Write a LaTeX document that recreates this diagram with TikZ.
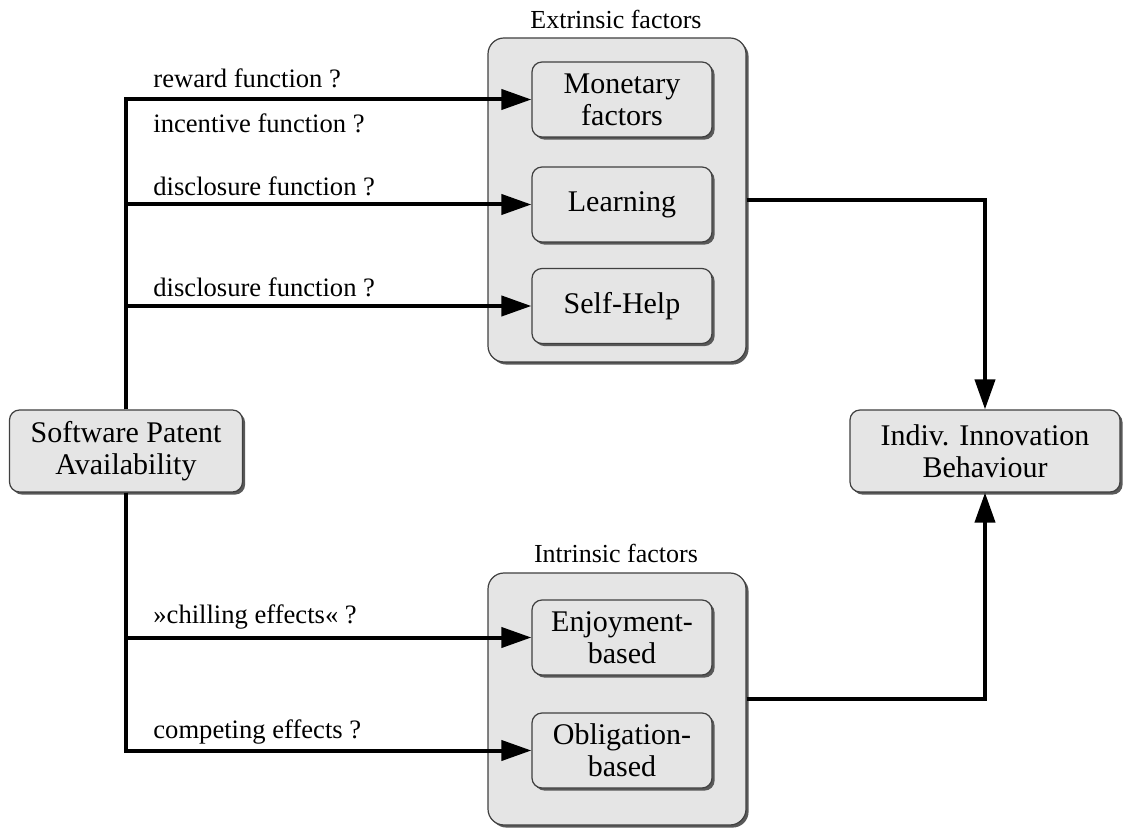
\documentclass[tikz,border=0pt]{standalone}
\usepackage{fontspec}
\setmainfont{Liberation Serif}
\usetikzlibrary{shadows,arrows.meta}
\begin{document}
\begin{tikzpicture}[x=0.5pt,y=-0.5pt,
  shad/.style={drop shadow={shadow xshift=1.3pt,shadow yshift=-1.3pt,fill=black!65,opacity=1}},
  box/.style={draw=black!75,fill=black!10,line width=0.6pt,rounded corners=5pt,shad,
    align=center,inner sep=0pt,font=\fontsize{15}{16}\selectfont},
  inbox/.style={box,minimum width=90pt,minimum height=37.5pt},
  outbox/.style={draw=black!75,fill=black!10,line width=0.6pt,rounded corners=8pt,shad,
    minimum width=129pt,inner sep=0pt},
  grp/.style={font=\fontsize{13}{15}\selectfont},
  lab/.style={anchor=west,inner sep=0pt,font=\fontsize{13.3}{15}\selectfont},
  conn/.style={line width=2pt,line join=miter,-{Triangle[length=15pt,width=10pt]}},
  plain/.style={line width=2pt,line join=miter}]
\useasboundingbox (0,0) rectangle (1125,828);
% groups
\node[outbox,minimum height=162pt] (ext) at (617,200) {};
\node[outbox,minimum height=126pt] (int) at (617,699) {};
\node[grp] (extl) at (616,19) {Extrinsic factors};
\node[grp] (intl) at (616,553) {Intrinsic factors};
% inner boxes
\node[inbox] (mon) at (622,99.5) {Monetary\\factors};
\node[inbox] (lea) at (622,204.5) {Learning};
\node[inbox] (slf) at (622,306) {Self-Help};
\node[inbox] (enj) at (622,637.5) {Enjoyment-\\based};
\node[inbox] (obl) at (622,750.5) {Obligation-\\based};
% main boxes
\node[box,minimum width=116.5pt,minimum height=41pt] (spa) at (126,451) {Software Patent\\Availability};
\node[box,minimum width=135pt,minimum height=41pt] (ind) at (985,451) {Indiv. Innovation\\Behaviour};
% connectors
\draw[conn] (spa.north) |- (mon.west);
\draw[conn] (spa.north) |- (lea.west);
\draw[conn] (spa.north) |- (slf.west);
\draw[conn] (spa.south) |- (enj.west);
\draw[conn] (spa.south) |- (obl.west);
\draw[conn] (ext.east) -| (ind.north);
\draw[conn] (int.east) -| (ind.south);
% labels
\node[lab] (l1) at (153,78) {reward function ?};
\node[lab] (l2) at (153,123) {incentive function ?};
\node[lab] (l3) at (153,186) {disclosure function ?};
\node[lab] (l4) at (153,287) {disclosure function ?};
\node[lab] (l5) at (153,617) {»chilling effects« ?};
\node[lab] (l6) at (153,732) {competing effects ?};
\end{tikzpicture}
\end{document}
